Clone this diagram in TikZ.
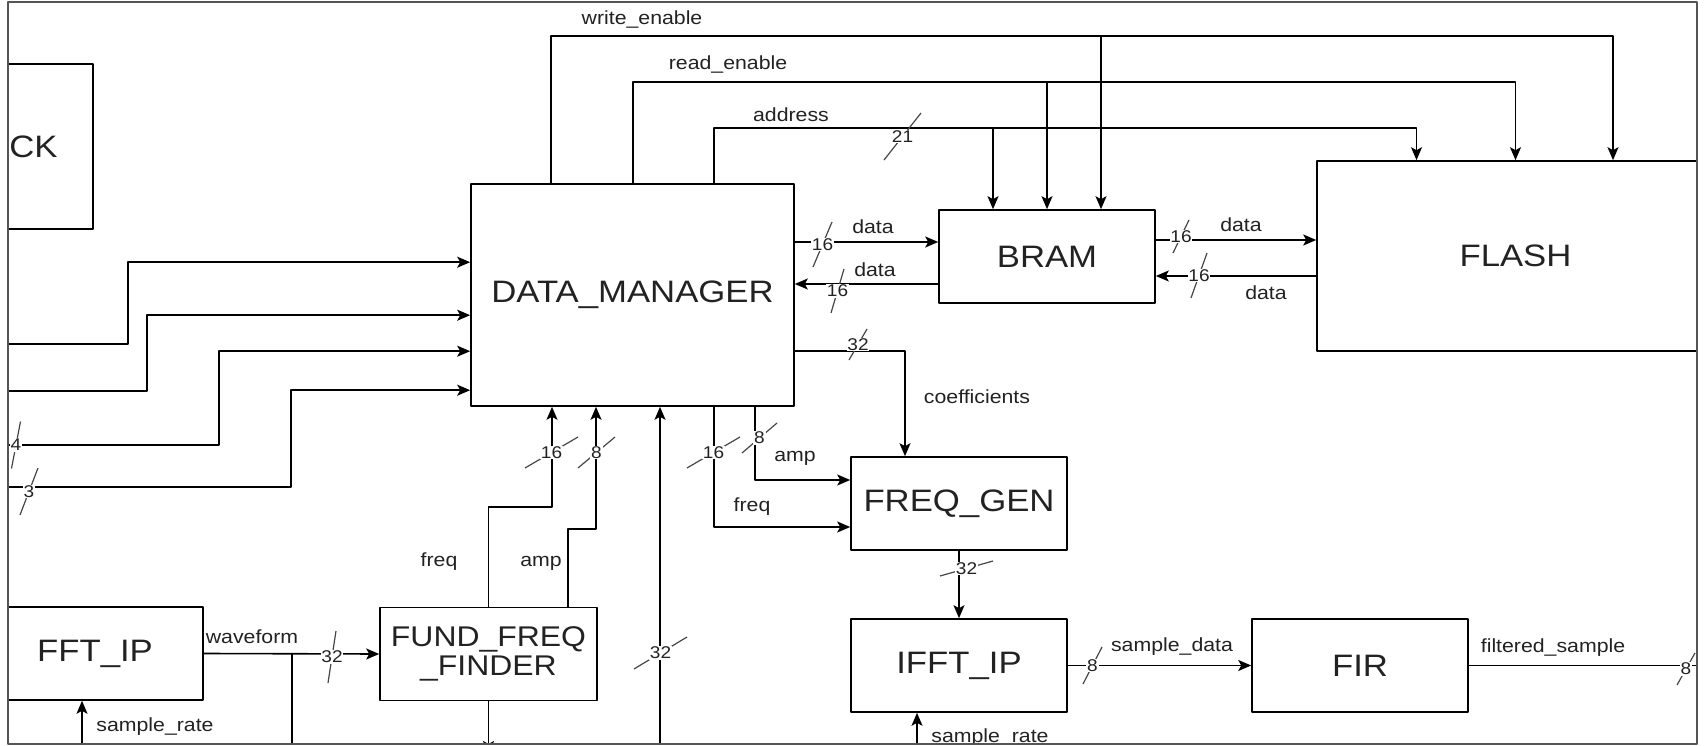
\documentclass[tikz,border=0pt]{standalone}
\usepackage{fontspec}
\setmainfont{Liberation Sans}[FakeStretch=1.12]
\usetikzlibrary{arrows.meta,calc}
\definecolor{txtgray}{RGB}{34,34,34}
\definecolor{busgray}{RGB}{70,70,70}
\definecolor{framegray}{RGB}{85,85,85}

\tikzset{
  blk/.style={draw, line width=1.6pt, minimum width=216pt, minimum height=93pt,
    inner sep=0pt, align=center, text=txtgray, font=\fontsize{31}{30}\selectfont},
  wire/.style={line width=1.6pt, -{Stealth[length=13pt,width=11pt,inset=3pt]}},
  plainwire/.style={line width=1.6pt},
  lbl/.style={inner sep=0pt, text=txtgray, font=\fontsize{19}{22}\selectfont},
  busline/.style={line width=1.2pt, draw=busgray},
  buslbl/.style={fill=white, inner sep=0.8pt, text=txtgray, font=\fontsize{17}{19}\selectfont}
}

% slash on a bus: name, centre, half slash, width
\newcommand{\busmark}[4]{%
  \draw[busline] ($#2+#3$) -- ($#2-#3$);
  \node[buslbl] (#1) at #2 {#4};}

\begin{document}
\begin{tikzpicture}[x=1pt,y=-1pt,line join=round]
\useasboundingbox (0,0) rectangle (1706,746);
\begin{scope}
\clip (8,2) rectangle (1697,744);

% blocks
\node[blk,minimum width=119pt,minimum height=165pt] (ck) at (33.5,146.5) {CK};
\node[blk,minimum width=323pt,minimum height=222pt] (dm) at (632.5,295) {DATA\_MANAGER};
\node[blk] (bram) at (1047,256.5) {BRAM};
\node[blk,minimum width=397pt,minimum height=190pt] (flash) at (1515.5,256) {FLASH};
\node[blk] (fgen) at (959,503.5) {FREQ\_GEN};
\node[blk] (ifft) at (959,665.5) {IFFT\_IP};
\node[blk] (fir) at (1360,665.5) {FIR};
\node[blk,minimum width=217pt,font=\fontsize{28.5}{29}\selectfont] (fff) at (488.5,654) {FUND\_FREQ\\\_FINDER};
\node[blk] (fft) at (95,653.5) {FFT\_IP};

% ports
\coordinate (bramA) at ($(bram.north)+(-54,0)$);
\coordinate (bramR) at (bram.north);
\coordinate (bramW) at ($(bram.north)+(54,0)$);
\coordinate (flashA) at ($(flash.north)+(-99,0)$);
\coordinate (flashR) at (flash.north);
\coordinate (flashW) at ($(flash.north)+(97.5,0)$);
\coordinate (fffA) at ($(fff.north)+(79.5,0)$);

% control lines
\coordinate (we) at (551,36);
\coordinate (re) at (633,82);
\coordinate (ad) at (714,128);
\draw[wire] (dm.north -| we) -- (we) -| (flashW);
\draw[wire] (bramW |- we) -- (bramW);
\draw[wire] (dm.north -| re) -- (re) -| (flashR);
\draw[wire] (bramR |- re) -- (bramR);
\draw[wire] (dm.north -| ad) -- (ad) -| (flashA);
\draw[wire] (bramA |- ad) -- (bramA);

% data
\coordinate (dt) at (0,242);
\coordinate (dr) at (0,284);
\coordinate (ft) at (0,240);
\coordinate (fr) at (0,276);
\draw[wire] (dm.east |- dt) -- (bram.west |- dt);
\draw[wire] (bram.west |- dr) -- (dm.east |- dr);
\draw[wire] (bram.east |- ft) -- (flash.west |- ft);
\draw[wire] (flash.west |- fr) -- (bram.east |- fr);
\coordinate (co) at (905,351);
\draw[wire] (dm.east |- co) -- (co) -- (co |- fgen.north);

% inputs from the left
\coordinate (lft) at (0,0);
\coordinate (in1) at (128,344);
\coordinate (in2) at (147,391);
\coordinate (in3) at (219,445);
\coordinate (in4) at (291,487);
\draw[wire] (in1 -| lft) -- (in1) |- ($(dm.north west)+(0,79)$);
\draw[wire] (in2 -| lft) -- (in2) |- ($(dm.north west)+(0,132)$);
\draw[wire] (in3 -| lft) -- (in3) |- ($(dm.north west)+(0,168)$);
\draw[wire] (in4 -| lft) -- (in4) |- ($(dm.north west)+(0,207)$);

% under the manager
\coordinate (fi) at (552,507);
\coordinate (ai) at (596,529);
\coordinate (bi) at (660,760);
\coordinate (fo) at (714,527);
\coordinate (ao) at (755,480);
\draw[wire] (fff.north) |- (fi) -- (dm.south -| fi);
\draw[wire] (fffA) |- (ai) -- (dm.south -| ai);
\draw[wire] (bi) -- (dm.south -| bi);
\draw[wire] (dm.south -| fo) -- (fo) -- (fgen.west |- fo);
\draw[wire] (dm.south -| ao) -- (ao) -- (fgen.west |- ao);

% signal chain
\coordinate (out) at (1720,666);
\coordinate (sr1) at (82,760);
\coordinate (sr2) at (917,760);
\coordinate (wf) at (292,760);
\coordinate (ffo) at (489,754);
\draw[wire] (fgen.south) -- (ifft.north);
\draw[wire] (ifft.east) -- (fir.west);
\draw[plainwire] (fir.east) -- (fir.east -| out);
\draw[wire] (sr2) -- (ifft.south -| sr2);
\draw[wire] (fft.east) -- (fff.west);
\draw[plainwire] (fft.east -| wf) -- (wf);
\draw[wire] (sr1) -- (fft.south -| sr1);
\draw[wire] (fff.south) -- (fff.south |- ffo);

% bus widths
\busmark{b21}{(902.5,136.5)}{(18.5,-23.5)}{21}
\busmark{bdt}{(822.5,244.5)}{(9.5,-22.5)}{16}
\busmark{bdr}{(837.5,291)}{(6.5,-22)}{16}
\busmark{bco}{(858,344.5)}{(9,-15.5)}{32}
\busmark{bft}{(1181,236.5)}{(8,-16.5)}{16}
\busmark{bfr}{(1199,275.5)}{(8,-22.5)}{16}
\busmark{bin3}{(16,445)}{(4.5,-23.5)}{4}
\busmark{bin4}{(29,491.5)}{(9,-23.5)}{3}
\busmark{bfi}{(551.5,452.5)}{(26.5,-15.5)}{16}
\busmark{bai}{(596.5,452.5)}{(18.5,-15.5)}{8}
\busmark{bfo}{(713.5,452.5)}{(26.5,-15.5)}{16}
\busmark{bao}{(759.5,438)}{(17.5,-15)}{8}
\busmark{bbi}{(660.5,653)}{(26.5,-16)}{32}
\busmark{bwf}{(332,657)}{(4,-26)}{32}
\busmark{bgi}{(966.5,568.5)}{(26.5,-7.5)}{32}
\busmark{bsd}{(1092.5,665.5)}{(9.5,-18.5)}{8}
\busmark{bout}{(1686,669)}{(9,-16)}{8}

% signal names
\node[lbl] (lwe) at (642,20) {write\_enable};
\node[lbl] (lre) at (728,65) {read\_enable};
\node[lbl] (lad) at (791,115) {address};
\node[lbl] (ldt) at (873,227) {data};
\node[lbl] (ldr) at (875,270) {data};
\node[lbl] (lft) at (1241,225) {data};
\node[lbl] (lfr) at (1266,293) {data};
\node[lbl] (lco) at (977,397) {coefficients};
\node[lbl] (lao) at (795,458) {amp};
\node[lbl] (lfo) at (752,507) {freq};
\node[lbl] (lfi) at (439,562) {freq};
\node[lbl] (lai) at (541,563) {amp};
\node[lbl] (lwf) at (252,637) {waveform};
\node[lbl] (lsr1) at (155,727) {sample\_rate};
\node[lbl] (lsd) at (1172,647) {sample\_data};
\node[lbl] (lfs) at (1553,648) {filtered\_sample};
\node[lbl] (lsr2) at (990,738) {sample\_rate};
\end{scope}
\draw[framegray,line width=2.5pt] (8,2) rectangle (1697,744);
\end{tikzpicture}
\end{document}
